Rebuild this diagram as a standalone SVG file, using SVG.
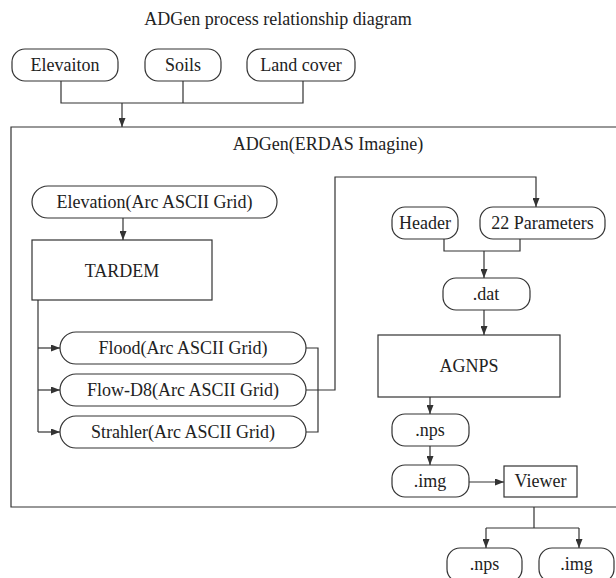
<svg xmlns="http://www.w3.org/2000/svg" width="616" height="578" viewBox="0 0 616 578">
  <style>
    text { font-size: 18px; fill: #222; text-anchor: middle; }
    .shape { fill: #fff; stroke: #333; stroke-width: 1.2; }
    .wire { fill: none; stroke: #333; stroke-width: 1.2; }
  </style>
  <defs>
    <marker id="arrow" markerUnits="userSpaceOnUse" markerWidth="9" markerHeight="7" refX="9" refY="3.5" orient="auto">
      <path d="M0,0 L9,3.5 L0,7 z" fill="#333"/>
    </marker>
  </defs>
  <rect width="616" height="578" fill="#fff"/>

  <g font-family="'Liberation Serif', 'DejaVu Serif', serif">
  <text x="278" y="25">ADGen process relationship diagram</text>

  <!-- container: ADGen running inside ERDAS Imagine -->
  <g id="adgen">
    <path class="wire" d="M616,127 H11 V507 H616"/>
    <text x="328" y="150">ADGen(ERDAS Imagine)</text>
  </g>

  <g id="elevaiton"><rect class="shape" x="12" y="49" width="106" height="32" rx="13"/><text x="65" y="71">Elevaiton</text></g>
  <g id="soils"><rect class="shape" x="145" y="49" width="76" height="32" rx="13"/><text x="183" y="71">Soils</text></g>
  <g id="landcover"><rect class="shape" x="247" y="49" width="108" height="32" rx="13"/><text x="301" y="71">Land cover</text></g>

  <g id="elevation-grid"><rect class="shape" x="32" y="186" width="245" height="32" rx="16"/><text x="154.5" y="208">Elevation(Arc ASCII Grid)</text></g>
  <g id="tardem"><rect class="shape" x="32" y="240" width="180" height="60"/><text x="122" y="277">TARDEM</text></g>

  <g id="flood"><rect class="shape" x="60" y="332" width="246" height="32" rx="16"/><text x="183" y="354">Flood(Arc ASCII Grid)</text></g>
  <g id="flow-d8"><rect class="shape" x="60" y="374" width="246" height="32" rx="16"/><text x="183" y="396">Flow-D8(Arc ASCII Grid)</text></g>
  <g id="strahler"><rect class="shape" x="60" y="416" width="246" height="32" rx="16"/><text x="183" y="438">Strahler(Arc ASCII Grid)</text></g>

  <g id="header"><rect class="shape" x="392" y="207" width="66" height="32" rx="13"/><text x="425" y="229">Header</text></g>
  <g id="parameters"><rect class="shape" x="480" y="207" width="125" height="32" rx="13"/><text x="542.5" y="229">22 Parameters</text></g>
  <g id="dat"><rect class="shape" x="443" y="278" width="87" height="32" rx="13"/><text x="486" y="300">.dat</text></g>
  <g id="agnps"><rect class="shape" x="378" y="335" width="182" height="62"/><text x="469" y="372">AGNPS</text></g>
  <g id="nps"><rect class="shape" x="392" y="414" width="77" height="32" rx="13"/><text x="430" y="436">.nps</text></g>
  <g id="img"><rect class="shape" x="392" y="465" width="77" height="32" rx="13"/><text x="430" y="487">.img</text></g>
  <g id="viewer"><rect class="shape" x="504" y="466" width="73" height="31"/><text x="540.5" y="487">Viewer</text></g>

  <g id="nps-out"><rect class="shape" x="447" y="548" width="75" height="34" rx="13"/><text x="484.5" y="570">.nps</text></g>
  <g id="img-out"><rect class="shape" x="539" y="548" width="75" height="34" rx="13"/><text x="576.5" y="570">.img</text></g>
  </g>

  <g id="connectors">
    <path class="wire" d="M61,81 V103 H303 V81 M183,81 V103"/>
    <path class="wire" d="M122,103 V127" marker-end="url(#arrow)"/>
    <path class="wire" d="M123,218 V240" marker-end="url(#arrow)"/>
    <path class="wire" d="M38,300 V432"/>
    <path class="wire" d="M38,348 H60" marker-end="url(#arrow)"/>
    <path class="wire" d="M38,390 H60" marker-end="url(#arrow)"/>
    <path class="wire" d="M38,432 H60" marker-end="url(#arrow)"/>
    <path class="wire" d="M306,348 H318 V432 H306"/>
    <path class="wire" d="M306,390 H335 V177 H536 V207" marker-end="url(#arrow)"/>
    <path class="wire" d="M444,239 V251 H520 V239"/>
    <path class="wire" d="M484,251 V278" marker-end="url(#arrow)"/>
    <path class="wire" d="M484,310 V335" marker-end="url(#arrow)"/>
    <path class="wire" d="M430,397 V414" marker-end="url(#arrow)"/>
    <path class="wire" d="M430,446 V465" marker-end="url(#arrow)"/>
    <path class="wire" d="M469,482 H504" marker-end="url(#arrow)"/>
    <path class="wire" d="M534,507 V528 M486,528 H579"/>
    <path class="wire" d="M486,528 V548" marker-end="url(#arrow)"/>
    <path class="wire" d="M579,528 V548" marker-end="url(#arrow)"/>
  </g>
</svg>
